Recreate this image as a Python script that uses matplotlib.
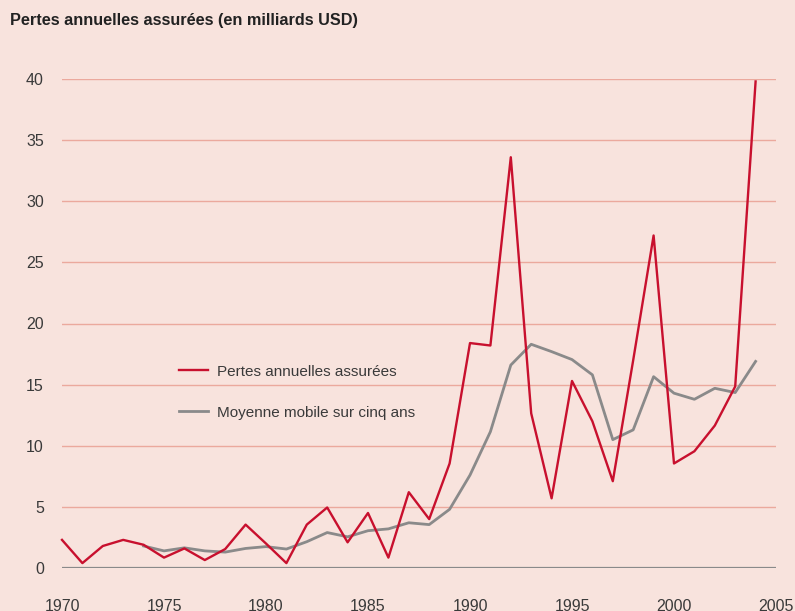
import matplotlib
matplotlib.use("Agg")
import matplotlib.pyplot as plt

plt.rcParams['font.family'] = ['Liberation Sans Narrow', 'Liberation Sans', 'DejaVu Sans']

# data (milliards USD)
years = list(range(1970, 2005))
pertes = [2.3, 0.4, 1.8, 2.3, 1.9, 0.85, 1.6, 0.65, 1.55, 3.55,
          2.0, 0.4, 3.55, 4.95, 2.1, 4.5, 0.85, 6.2, 4.0, 8.55,
          18.4, 18.2, 33.6, 12.65, 5.7, 15.3, 12.0, 7.1, 17.0, 27.2,
          8.55, 9.55, 11.65, 14.85, 39.8]
ma_years = list(range(1974, 2005))
moyenne = [1.8, 1.4, 1.65, 1.4, 1.3, 1.6, 1.75, 1.55, 2.15, 2.9,
           2.55, 3.05, 3.2, 3.7, 3.55, 4.8, 7.6, 11.15, 16.6, 18.3,
           17.7, 17.05, 15.8, 10.5, 11.3, 15.65, 14.3, 13.8, 14.7, 14.35,
           16.9]
yticks = [0, 5, 10, 15, 20, 25, 30, 35, 40]
xticks = [1970, 1975, 1980, 1985, 1990, 1995, 2000, 2005]

bg = '#F8E3DD'
red = '#C8102E'
grey = '#8A8A8A'
grid = '#EBA99D'
txt = '#3a3a3a'

W, H = 795, 611
fig = plt.figure(figsize=(W / 100, H / 100), dpi=100, facecolor=bg)
ax = fig.add_axes([62 / W, (H - 568) / H, (776 - 62) / W, (568 - 79) / H])
ax.set_facecolor(bg)
ax.set_xlim(1970, 2005)
ax.set_ylim(0, 40)

for v in yticks[1:]:
    ax.axhline(v, color=grid, lw=1.0, zorder=1)
ax.axhline(0, color=grey, lw=1.6, zorder=2)

ax.plot(years, pertes, color=red, lw=1.7, zorder=4, clip_on=False,
        label='Pertes annuelles assurées')
ax.plot(ma_years, moyenne, color=grey, lw=2.0, zorder=3, clip_on=False,
        label='Moyenne mobile sur cinq ans')

for s in ax.spines.values():
    s.set_visible(False)
ax.set_yticks(yticks)
ax.set_xticks(xticks)
ax.tick_params(axis='both', length=0, labelsize=11.5, colors=txt)
ax.tick_params(axis='y', pad=13)
ax.tick_params(axis='x', pad=22)

ax.legend(loc='upper left', bbox_to_anchor=(0.155, 0.428), frameon=False,
          fontsize=11, handlelength=1.9, handletextpad=0.6, labelspacing=1.75,
          labelcolor=txt, borderaxespad=0)

fig.text(10 / W, 1 - 20 / H, 'Pertes annuelles assurées (en milliards USD)',
         fontsize=11.7, fontweight='bold', color='#222222', va='center')

fig.savefig('out.png', dpi=100, facecolor=bg)
